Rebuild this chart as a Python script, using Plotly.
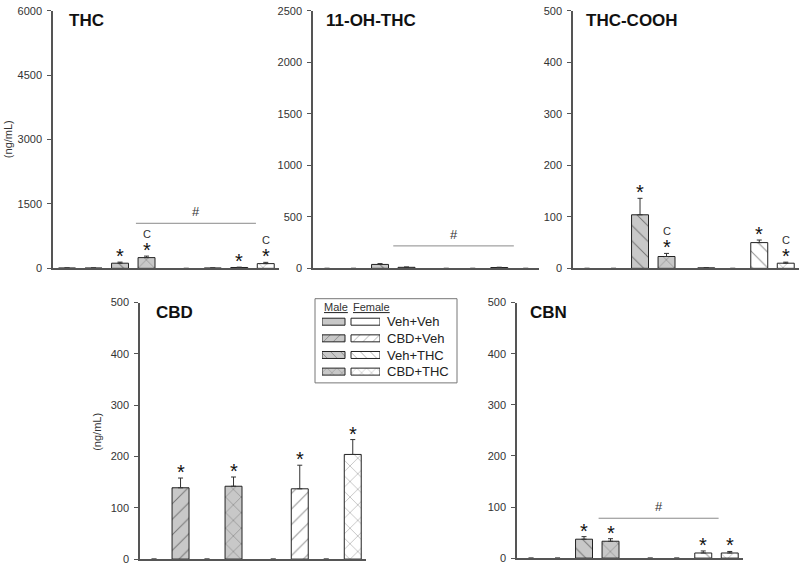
import plotly.graph_objects as go

W, H = 800, 569
FONT = "Arial, Liberation Sans, sans-serif"

treatments = ["Veh+Veh", "CBD+Veh", "Veh+THC", "CBD+THC"]
sexes = ["Male", "Female"]

# ---- data (ng/mL), order = treatments ----
THC_male = [8, 8, 120, 250]
THC_male_err = [0, 0, 25, 35]
THC_female = [0, 8, 20, 110]
THC_female_err = [0, 0, 8, 30]
THC_marks_male = ["", "", "*", "C*"]
THC_marks_female = ["", "", "*", "C*"]

OH_male = [0, 0, 38, 10]
OH_male_err = [0, 0, 8, 3]
OH_female = [0, 0, 8, 0]
OH_female_err = [0, 0, 3, 0]
OH_marks_male = ["", "", "", ""]
OH_marks_female = ["", "", "", ""]

COOH_male = [0, 0, 104, 23]
COOH_male_err = [0, 0, 32, 6]
COOH_female = [1, 0, 50, 10]
COOH_female_err = [0, 0, 5, 2]
COOH_marks_male = ["", "", "*", "C*"]
COOH_marks_female = ["", "", "*", "C*"]

CBD_male = [0, 139, 0, 142]
CBD_male_err = [0, 19, 0, 18]
CBD_female = [0, 137, 0, 204]
CBD_female_err = [0, 46, 0, 29]
CBD_marks_male = ["", "*", "", "*"]
CBD_marks_female = ["", "*", "", "*"]

CBN_male = [0, 0, 37, 33]
CBN_male_err = [0, 0, 5, 5]
CBN_female = [0, 0, 10, 10]
CBN_female_err = [0, 0, 4, 3]
CBN_marks_male = ["", "", "*", "*"]
CBN_marks_female = ["", "", "*", "*"]

panels = [
    dict(name="THC", male=THC_male, me=THC_male_err, female=THC_female, fe=THC_female_err,
         mm=THC_marks_male, fm=THC_marks_female, ymax=6000, step=1500,
         px=(53, 279), py=(5, 268), sig=(2.6, 7.13, 1050)),
    dict(name="11-OH-THC", male=OH_male, me=OH_male_err, female=OH_female, fe=OH_female_err,
         mm=OH_marks_male, fm=OH_marks_female, ymax=2500, step=500,
         px=(313, 539), py=(5, 268), sig=(2.5, 7.05, 218)),
    dict(name="THC-COOH", male=COOH_male, me=COOH_male_err, female=COOH_female, fe=COOH_female_err,
         mm=COOH_marks_male, fm=COOH_marks_female, ymax=500, step=100,
         px=(573, 799), py=(5, 268), sig=None),
    dict(name="CBD", male=CBD_male, me=CBD_male_err, female=CBD_female, fe=CBD_female_err,
         mm=CBD_marks_male, fm=CBD_marks_female, ymax=500, step=100,
         px=(140, 366), py=(303, 565), sig=None),
    dict(name="CBN", male=CBN_male, me=CBN_male_err, female=CBN_female, fe=CBN_female_err,
         mm=CBN_marks_male, fm=CBN_marks_female, ymax=500, step=100,
         px=(517, 743), py=(303, 564), sig=(2.55, 7.08, 78)),
]

patterns = ["", "/", "\\", "x"]
sex_fill = {"Male": "#c8c8c8", "Female": "#ffffff"}
FEMALE_OFFSET = 4.5
XRANGE = [-0.53, 8.0]

fig = go.Figure()
layout = dict(
    width=W, height=H, margin=dict(l=0, r=0, t=0, b=0),
    paper_bgcolor="white", plot_bgcolor="white", showlegend=False,
    font=dict(family=FONT, color="#333"), barmode="overlay",
)
annotations = []
shapes = []

def px_dom_x(a, b):
    return [a / W, b / W]

def px_dom_y(top, bottom):
    return [(H - bottom) / H, (H - top) / H]

for k, p in enumerate(panels, start=1):
    xa = "x" if k == 1 else f"x{k}"
    ya = "y" if k == 1 else f"y{k}"
    xkey = "xaxis" if k == 1 else f"xaxis{k}"
    ykey = "yaxis" if k == 1 else f"yaxis{k}"
    for sex, vals, errs, marks in (("Male", p["male"], p["me"], p["mm"]),
                                   ("Female", p["female"], p["fe"], p["fm"])):
        off = 0 if sex == "Male" else FEMALE_OFFSET
        xs = [i + off for i in range(len(treatments))]
        fig.add_trace(go.Bar(
            x=xs, y=vals, xaxis=xa, yaxis=ya, width=0.64,
            marker=dict(color=sex_fill[sex],
                        line=dict(color="#222", width=[1 if v > 0 else 0 for v in vals]),
                        pattern=dict(shape=patterns, fillmode="overlay", bgcolor=sex_fill[sex],
                                     fgcolor="#222", size=11, solidity=0.09)),
            error_y=dict(type="data", array=[e if e > 0 else None for e in errs],
                         arrayminus=[0 if e > 0 else None for e in errs], symmetric=False,
                         color="#333", thickness=1, width=2.5, visible=True),
            hoverinfo="skip",
        ))
        for x, v, e, m in zip(xs, vals, errs, marks):
            top = v + e
            if "*" in m:
                annotations.append(dict(x=x, y=top, xref=xa, yref=ya, text="*", showarrow=False,
                                        yanchor="middle", yshift=6,
                                        font=dict(size=20, color="#111", family=FONT)))
            if "C" in m:
                annotations.append(dict(x=x, y=top, xref=xa, yref=ya, text="C", showarrow=False,
                                        yanchor="middle", yshift=22,
                                        font=dict(size=11, color="#333", family=FONT)))
    if p["sig"]:
        x0, x1, yl = p["sig"]
        shapes.append(dict(type="line", xref=xa, yref=ya, x0=x0, x1=x1, y0=yl, y1=yl,
                           line=dict(color="#8a8a8a", width=1)))
        annotations.append(dict(x=(x0 + x1) / 2, y=yl, xref=xa, yref=ya, text="#", showarrow=False,
                                yanchor="bottom", yshift=2, font=dict(size=13, color="#333")))
    layout[xkey] = dict(domain=px_dom_x(*p["px"]), range=XRANGE, anchor=ya,
                        showline=True, linecolor="#555", linewidth=1.5, showticklabels=False,
                        ticks="", showgrid=False, zeroline=False, fixedrange=True)
    layout[ykey] = dict(domain=px_dom_y(*p["py"]), range=[0, p["ymax"]], anchor=xa,
                        tickvals=list(range(0, p["ymax"] + 1, p["step"])),
                        ticks="outside", ticklen=4, tickcolor="#555", tickwidth=1,
                        showline=True, linecolor="#555", linewidth=1.5, showgrid=False,
                        zeroline=False, tickfont=dict(size=11, color="#333"), ticklabelstandoff=3)
    annotations.append(dict(x=(p["px"][0] + (14 if k in (1, 4) else 11)) / W,
                            y=(H - (p["py"][0] + 10)) / H, xref="paper", yref="paper",
                            text=f"<b>{p['name']}</b>", showarrow=False, xanchor="left",
                            yanchor="middle", font=dict(size=17, color="#111", family=FONT)))

for (xp, yp) in ((8, 136), (97, 435)):
    annotations.append(dict(x=xp / W, y=(H - yp) / H, xref="paper", yref="paper",
                            text="(ng/mL)", textangle=-90, showarrow=False,
                            xanchor="center", yanchor="middle",
                            font=dict(size=11, color="#333")))

# ---- legend built from small bar axes ----
lx0, lx1 = 322, 380
for sex, base, length in (("Male", 0, 23), ("Female", 29, 29)):
    fig.add_trace(go.Bar(
        y=treatments, x=[length] * 4, base=[base] * 4, orientation="h",
        xaxis="x6", yaxis="y6", width=0.42,
        marker=dict(color=sex_fill[sex], line=dict(color="#222", width=1),
                    pattern=dict(shape=patterns, fillmode="overlay", bgcolor=sex_fill[sex],
                                 fgcolor="#222", size=7, solidity=0.1)),
        hoverinfo="skip",
    ))
layout["xaxis6"] = dict(domain=px_dom_x(lx0, lx1), range=[0, 58], anchor="y6", visible=False,
                        fixedrange=True)
layout["yaxis6"] = dict(domain=px_dom_y(314, 382), anchor="x6", side="right",
                        autorange="reversed", showline=False, ticks="", showgrid=False,
                        zeroline=False, tickfont=dict(size=13, color="#222"),
                        ticklabelstandoff=6, categoryorder="array", categoryarray=treatments)
shapes.append(dict(type="rect", xref="paper", yref="paper", x0=315 / W, x1=457 / W,
                   y0=(H - 385) / H, y1=(H - 299) / H, line=dict(color="#777", width=1)))
for text, xp in (("Male", 322), ("Female", 351)):
    annotations.append(dict(x=xp / W, y=(H - 307) / H, xref="paper", yref="paper",
                            text=f"<u>{text}</u>", showarrow=False, xanchor="left",
                            yanchor="middle", font=dict(size=11, color="#333")))

layout["annotations"] = annotations
layout["shapes"] = shapes
fig.update_layout(**layout)
fig.write_html("out.html", config={"displayModeBar": False},
               post_script="document.body.style.margin='0';document.body.style.overflow='hidden';")
